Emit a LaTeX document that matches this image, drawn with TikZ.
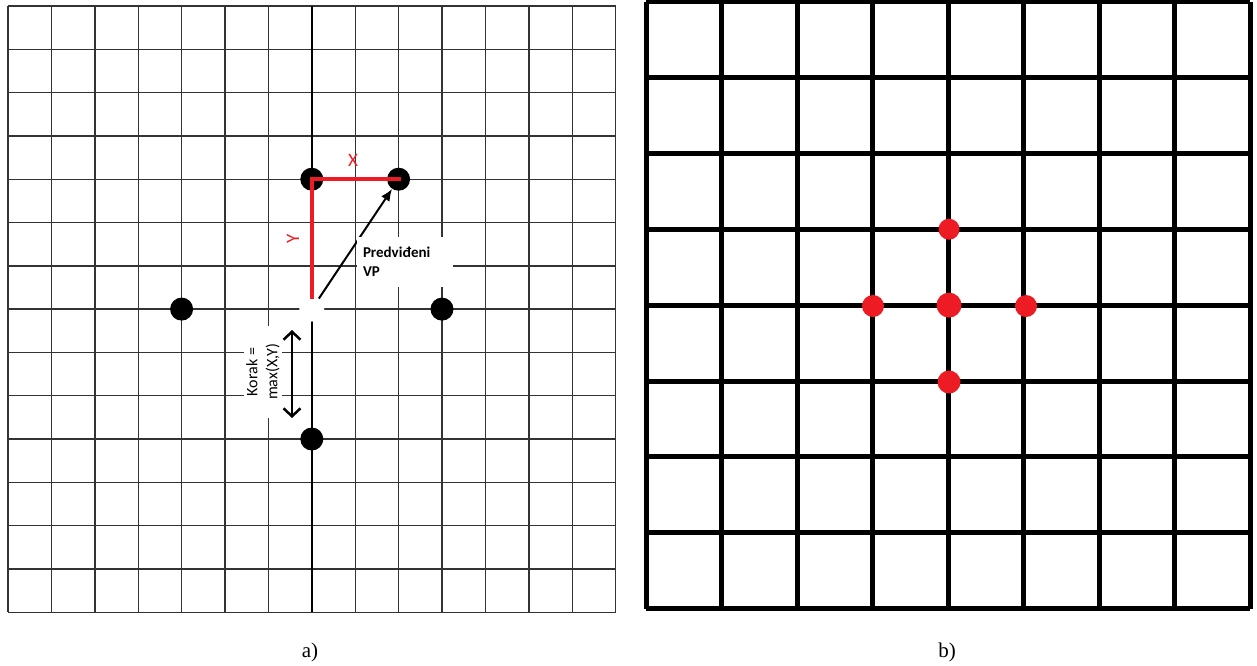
\documentclass[tikz,border=0pt]{standalone}
\usepackage{fontspec}
\setmainfont{Liberation Serif}
\newfontfamily\carl{Carlito}
\usetikzlibrary{arrows.meta}
\definecolor{myred}{HTML}{ED1C24}
\begin{document}
\begin{tikzpicture}[x=1pt,y=-1pt,
  thingrid/.style={draw=black!80,line width=1.4pt},
  thickgrid/.style={draw=black,line width=5pt},
  bdot/.style={circle,fill=black,minimum size=23pt,inner sep=0pt},
  rdot/.style={circle,fill=myred,minimum size=21pt,inner sep=0pt},
  redline/.style={draw=myred,line width=4.5pt},
  lbl/.style={font=\fontsize{21}{24}\selectfont\rmfamily}]
\useasboundingbox (0,0) rectangle (1257,665);
\fill[white] (0,0) rectangle (1257,665);
% left grid
\foreach \i in {0,...,14} {
  \draw[thingrid] (8+\i*43.4,6) -- (8+\i*43.4,612.2);
  \draw[thingrid] (8,6+\i*43.3) -- (615.6,6+\i*43.3);
}
\draw[black,line width=2.2pt] (311.8,6) -- (311.8,612.2);
% right grid
\foreach \i in {0,...,8} {
  \draw[thickgrid] (646+\i*75.5,1.5) -- (646+\i*75.5,608.7);
  \draw[thickgrid] (646,1.5+\i*75.9) -- (1250,1.5+\i*75.9);
}
% left dots
\node[bdot] (tl) at (311.8,179.2) {};
\node[bdot] (tr) at (398.6,179.2) {};
\node[bdot] (ml) at (181.6,309.1) {};
\node[bdot] (mr) at (442,309.1) {};
\node[bdot] (bm) at (311.8,439) {};
\node[circle,fill=white,minimum size=25pt,inner sep=0pt] (c) at (311.8,309.1) {};
% red lines
\draw[redline,line cap=rect] (c.north) -- (tl.center) -- (tr.center);
\node[text=myred,font=\carl\fontsize{19}{20}\selectfont] (xl) at (353,160) {X};
\node[text=myred,font=\carl\fontsize{19}{20}\selectfont,rotate=90] (yl) at (293,239) {Y};
% arrow
\draw[black,line width=2pt,-{Latex[length=12pt,width=10pt]}] (c) -- (tr);
% predicted label
\node[fill=white,minimum width=96pt,minimum height=50pt,inner sep=6pt,
  align=left,text width=84pt,font=\carl\bfseries\fontsize{15}{19}\selectfont] (pv) at (405,262) {Predviđeni\\VP};
% korak label
\node[fill=white,minimum width=92pt,minimum height=38pt,inner sep=2pt,rotate=90,
  align=center,font=\carl\fontsize{16}{20}\selectfont] (kor) at (263,372) {Korak =\\max(X,Y)};
\coordinate (ka) at (292,330);
\coordinate (kb) at (292,418);
\draw[black,line width=2.5pt,{Straight Barb[length=8pt,width=17pt]}-{Straight Barb[length=8pt,width=17pt]}] (ka) -- (kb);
% right dots
\node[rdot] (rt) at (949,229.2) {};
\node[rdot,minimum size=22pt] (rl) at (873,306) {};
\node[rdot,minimum size=25pt] (rc) at (949,305.1) {};
\node[rdot,minimum size=22pt] (rr) at (1026,306) {};
\node[rdot,minimum size=23pt] (rb) at (949,382) {};
% captions
\node[lbl] (la) at (310,652) {a)};
\node[lbl] (lb) at (947,652) {b)};
\end{tikzpicture}
\end{document}
